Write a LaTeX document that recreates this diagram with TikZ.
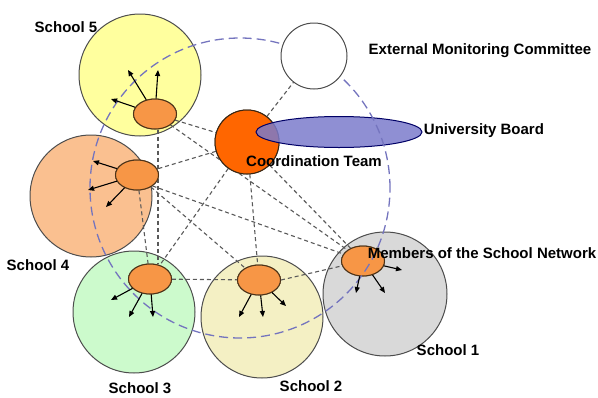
\documentclass[tikz,border=0pt]{standalone}
\usepackage{fontspec}
\setmainfont{Liberation Sans}
\usetikzlibrary{shapes.geometric,arrows.meta}
\definecolor{yellowfive}{HTML}{FFFF9E}
\definecolor{peachfour}{HTML}{FAC090}
\definecolor{greenthree}{HTML}{CCFACC}
\definecolor{creamtwo}{HTML}{F4F0C4}
\definecolor{greyone}{HTML}{D9D9D9}
\definecolor{memberorange}{HTML}{F79646}
\definecolor{teamorange}{HTML}{FF6600}
\definecolor{boardblue}{HTML}{7B7BCB}
\definecolor{ringblue}{HTML}{7474BE}
\begin{document}
\begin{tikzpicture}[x=1pt,y=-1pt,
    school/.style={circle,draw=black!70,line width=1pt,minimum size=122pt,inner sep=0pt},
    member/.style={ellipse,draw=black!60!brown,fill=memberorange,line width=1pt,minimum width=43pt,minimum height=30pt,inner sep=0pt},
    team/.style={circle,draw=black!70!brown,fill=teamorange,line width=1pt,minimum size=64pt,inner sep=0pt},
    link/.style={draw=black!65,line width=1.1pt,dash pattern=on 4pt off 3pt},
    outarrow/.style={-{Triangle[length=6pt,width=5pt]},line width=1.1pt},
    lbl/.style={font=\bfseries\fontsize{15}{17}\selectfont,inner sep=0pt}]
    \useasboundingbox (0,0) rectangle (598,397);
    \node[school,fill=yellowfive] (s5) at (140,75) {};
    \node[school,fill=peachfour] (s4) at (91,196) {};
    \node[school,fill=greenthree] (s3) at (134,312) {};
    \node[school,fill=creamtwo] (s2) at (262,317) {};
    \node[school,fill=greyone,minimum size=124pt] (s1) at (385,294) {};
    \coordinate (m5c) at (155,114);
    \coordinate (m4c) at (137,175);
    \coordinate (m3c) at (150,279);
    \coordinate (m2c) at (259,280);
    \coordinate (m1c) at (363,261);
    \node[member] (m5) at (m5c) {};
    \node[member] (m4) at (m4c) {};
    \node[member] (m3) at (m3c) {};
    \node[member] (m2) at (m2c) {};
    \node[member] (m1) at (m1c) {};
    \node[team] (ct) at (247,142) {};
    \node[circle,minimum size=66pt,inner sep=0pt] (emc) at (314,56) {};
    \draw[link] (m5) -- (ct);
    \draw[link] ([xshift=3pt]m5.south) -- ([xshift=8pt]m3.north);
    \draw[link] (m5.south east) -- (m1);
    \draw[link] (ct) -- (m4);
    \draw[link] (ct) -- (m3);
    \draw[link] (ct) -- (m2);
    \draw[link] (ct) -- (m1);
    \draw[link] (ct) -- (emc);
    \draw[link] (m4) -- (m3);
    \draw[link] (m4) -- (m2);
    \draw[link] (m4.south east) -- (m1);
    \draw[link] (m3) -- (m2);
    \draw[link] (m2.east) -- (m1);
    \node[member] at (m5c) {};
    \node[member] at (m4c) {};
    \node[member] at (m3c) {};
    \node[member] at (m2c) {};
    \node[member] at (m1c) {};
    \node[team] at (247,142) {};
    \node[ellipse,draw=black!60!blue,fill=boardblue,fill opacity=0.85,line width=1pt,minimum width=166pt,minimum height=31pt,inner sep=0pt] (ub) at (339,132) {};
    \node[circle,draw=ringblue,line width=1.3pt,dash pattern=on 9pt off 5pt,minimum size=300pt,inner sep=0pt] (net) at (240,188) {};
    \node[circle,draw=black!70,fill=white,line width=1pt,minimum size=66pt,inner sep=0pt] at (314,56) {};
    \coordinate (e51) at (128,70);
    \coordinate (e52) at (158,70);
    \coordinate (e53) at (111,99);
    \coordinate (e41) at (93,161);
    \coordinate (e42) at (88,190);
    \coordinate (e43) at (106,207);
    \coordinate (e31) at (111,300);
    \coordinate (e32) at (129,317);
    \coordinate (e33) at (153,317);
    \coordinate (e21) at (239,317);
    \coordinate (e22) at (263,317);
    \coordinate (e23) at (286,306);
    \coordinate (e11) at (402,270);
    \coordinate (e12) at (356,293);
    \coordinate (e13) at (385,293);
    \foreach \s in {5,4,3,2,1}
      \foreach \k in {1,2,3}
        \draw[outarrow] (m\s) -- (e\s\k);
    \node[lbl] (t5) at (66,27) {School 5};
    \node[lbl] (temc) at (480,51) {External Monitoring Committee};
    \node[lbl] (tub) at (484,131) {University Board};
    \node[lbl] (tct) at (314,161) {Coordination Team};
    \node[lbl] (tm) at (482,253) {Members of the School Network};
    \node[lbl] (t4) at (38,265) {School 4};
    \node[lbl] (t3) at (140,388) {School 3};
    \node[lbl] (t2) at (311,386) {School 2};
    \node[lbl] (t1) at (448,350) {School 1};
\end{tikzpicture}
\end{document}
